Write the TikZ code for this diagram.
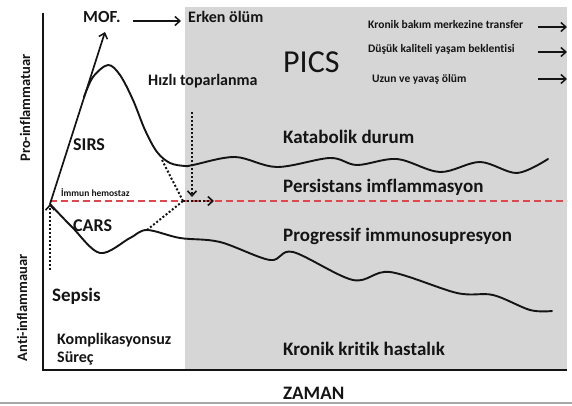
\documentclass[tikz,border=0pt]{standalone}
\usepackage{fontspec}
\setmainfont{Carlito}[Ligatures=NoCommon]
\usetikzlibrary{arrows.meta, positioning}
\definecolor{panel}{HTML}{D6D6D6}
\definecolor{hemo}{HTML}{E0474C}
\definecolor{ink}{HTML}{141414}

\begin{document}
\begin{tikzpicture}[x=1pt, y=-1pt,
    tag/.style={font=\bfseries\fontsize{19}{21}\selectfont, inner sep=0pt, anchor=base west, text=ink},
    midtag/.style={font=\bfseries\fontsize{16}{18}\selectfont, inner sep=0pt, anchor=base west, text=ink},
    smalltag/.style={font=\bfseries\fontsize{11.5}{13}\selectfont, inner sep=0pt, anchor=base west, text=ink},
    sidetag/.style={font=\bfseries\fontsize{14.5}{16}\selectfont, inner sep=0pt, rotate=90, text=ink},
    curve/.style={line width=1.9pt, color=ink, line cap=round},
    axis/.style={line width=1.8pt, color=ink},
    dotarrow/.style={-{Straight Barb[length=5pt, width=9pt, line width=1.6pt]}, line width=2pt, dotted, color=ink},
    dotline/.style={line width=2pt, dotted, color=ink},
    riskarrow/.style={-{Straight Barb[length=5pt, width=9pt, line width=1.5pt]}, line width=1.7pt, color=ink},
    hemoline/.style={line width=1.5pt, color=hemo, dash pattern=on 7pt off 4pt},
  ]
  \useasboundingbox (0,0) rectangle (572,406);
  \fill[panel] (185,7) rectangle (567,370);

  % axes
  \draw[axis] (43,13) -- (43,370) -- (567,370);
  \draw[gray!70, line width=1.5pt] (0,403) -- (572,403);

  \coordinate (origin) at (50,204);
  \coordinate (moftip) at (105,32);
  \coordinate (sepsisfoot) at (50,270);
  \coordinate (hemoend) at (567,201);

  \draw[hemoline] (origin |- hemoend) -- (hemoend);

  % SIRS / katabolik
  \draw[curve] plot[smooth, tension=0.55] coordinates {(84,97) (93,77) (108,65) (120,75) (133,100) (145,130) (157,152) (170,163) (185,166) (193,165) (235,157) (277,167) (330,158) (357,165) (397,159) (440,172) (480,162) (517,173) (548,159)};
  % CARS / immunosupresyon
  \draw[curve] plot[smooth, tension=0.55] coordinates {(origin) (72,227) (100,253) (130,238) (147,230) (180,238) (220,242) (270,260) (293,252) (353,280) (390,272) (457,293) (493,295) (530,310) (552,311)};

  \draw[riskarrow] (origin) -- (moftip);
  \draw[dotarrow] (sepsisfoot) -- (origin);

  \coordinate (fastTop) at (192,112);
  \coordinate (fastEnd) at (192,197);
  \coordinate (sirsDrop) at (162,160);
  \coordinate (carsRise) at (147,230);
  \coordinate (meet) at (183,201);
  \coordinate (meetEnd) at (214,201);
  \draw[dotarrow] (fastTop) -- (fastEnd);
  \draw[dotline] (sirsDrop) -- (meet);
  \draw[dotline] (carsRise) -- (meet);
  \draw[dotarrow] (meet) -- (meetEnd);

  % labels
  \node[midtag, font=\bfseries\fontsize{17}{19}\selectfont] (mof) at (83,23) {MOF.};
  \node[midtag] (erken) at (188,23) {Erken ölüm};
  \coordinate (mofA) at (133,21);
  \coordinate (mofB) at (181,21);
  \draw[riskarrow] (mofA) -- (mofB);
  \node[midtag] (hizli) at (148,86) {Hızlı toparlanma};
  \node[font=\fontsize{32}{34}\selectfont, inner sep=0pt, anchor=base west, text=ink] (pics) at (283,73) {PICS};

  \node[smalltag] (bakim) at (368,29) {Kronik bakım merkezine transfer};
  \node[smalltag] (kalite) at (368,53) {Düşük kaliteli yaşam beklentisi};
  \node[smalltag] (yavas) at (372,83) {Uzun ve yavaş ölüm};
  \coordinate (bakimA) at (538,27);  \coordinate (bakimB) at (567,27);
  \coordinate (kaliteA) at (538,52); \coordinate (kaliteB) at (567,52);
  \coordinate (yavasA) at (538,79);  \coordinate (yavasB) at (567,79);
  \draw[riskarrow] (bakimA) -- (bakimB);
  \draw[riskarrow] (kaliteA) -- (kaliteB);
  \draw[riskarrow] (yavasA) -- (yavasB);

  \node[tag] (katabolik) at (283,143) {Katabolik durum};
  \node[tag] (persist) at (283,192) {Persistans imflammasyon};
  \node[tag] (progres) at (283,241) {Progressif immunosupresyon};
  \node[tag] (kritik) at (283,355) {Kronik kritik hastalık};

  \node[tag, font=\bfseries\fontsize{18}{20}\selectfont] (sirs) at (73,150) {SIRS};
  \node[tag, font=\bfseries\fontsize{18}{20}\selectfont] (cars) at (73,231) {CARS};
  \node[font=\bfseries\fontsize{9.5}{11}\selectfont, inner sep=0pt, anchor=base west, text=ink] (hemostaz) at (61,196) {İmmun hemostaz};
  \node[tag] (sepsis) at (52,301) {Sepsis};
  \node[midtag] (kompli) at (57,344) {Komplikasyonsuz};
  \node[midtag] (surec) at (57,362) {Süreç};

  \node[sidetag] (pro) at (25,108) {Pro-inflammatuar};
  \node[sidetag] (anti) at (22,308) {Anti-inflammauar};
  \node[tag] (zaman) at (283,399) {ZAMAN};
\end{tikzpicture}
\end{document}
